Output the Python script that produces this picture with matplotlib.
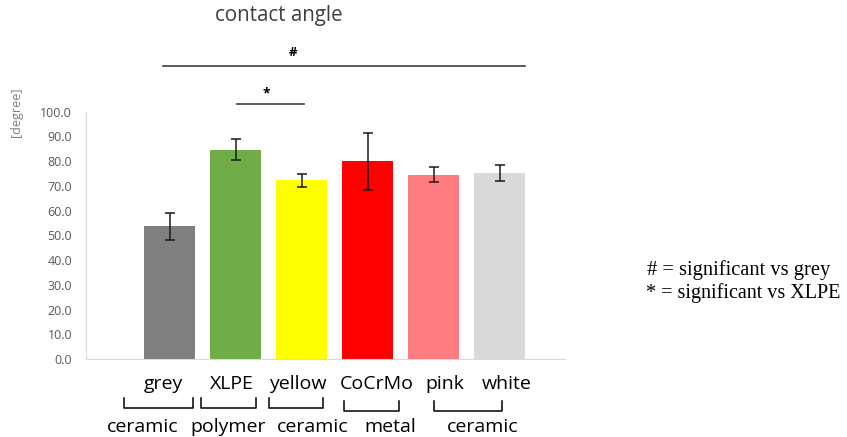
import matplotlib.pyplot as plt
import numpy as np

# contact angle per material, mean and SD
materials = ['grey', 'XLPE', 'yellow', 'CoCrMo', 'pink', 'white']
angle_mean = [53.7, 84.6, 72.2, 80.0, 74.5, 75.3]
angle_sd = [5.4, 4.3, 2.5, 11.5, 3.0, 3.3]
bar_colors = ['#7f7f7f', '#70ad47', '#ffff00', '#ff0000', '#ff7c80', '#d9d9d9']

# material classes shown under the category labels
groups = ['ceramic', 'polymer', 'ceramic', 'metal', 'ceramic']

SANS = 'Open Sans'
W, H = 847, 437
fig = plt.figure(figsize=(W / 100, H / 100), dpi=100)
ax = fig.add_axes([86 / W, (H - 359) / H, (565 - 86) / W, (359 - 111.7) / H])

x = np.arange(len(materials))
ax.bar(x, angle_mean, width=0.77, color=bar_colors)
ax.errorbar(x, angle_mean, yerr=angle_sd, fmt='none', ecolor='#1a1a1a',
            elinewidth=1.1, capsize=3.5, capthick=1.1)

ax.set_xlim(-1.268, 5.99)
ax.set_ylim(0, 100)
ax.set_yticks(np.arange(0, 101, 10))
ax.set_yticklabels([f'{v:.1f}' for v in range(0, 101, 10)])
ax.tick_params(axis='y', length=0, pad=10, labelsize=9, labelcolor='#595959')
ax.tick_params(axis='x', bottom=False, labelbottom=False)
for lab in ax.get_yticklabels():
    lab.set_fontfamily(SANS)
for side in ['top', 'right']:
    ax.spines[side].set_visible(False)
ax.spines['left'].set_color('#d9d9d9')
ax.spines['bottom'].set_color('#d9d9d9')

fig.text(17 / W, 1 - 112 / H, '[degree]', rotation=90, ha='center', va='center',
         fontsize=9, color='#7f7f7f', family=SANS)
fig.text(279 / W, 1 - 15 / H, 'contact angle', ha='center', va='center',
         fontsize=14.8, color='#404040', family=SANS)

# significance lines
fig.add_artist(plt.Line2D([163 / W, 525 / W], [1 - 66 / H] * 2, color='#404040', lw=1.2))
fig.text(293 / W, 1 - 53 / H, '#', ha='center', va='center', fontsize=9.5,
         family=SANS, weight='bold')
fig.add_artist(plt.Line2D([237 / W, 304 / W], [1 - 104 / H] * 2, color='#404040', lw=1.2))
fig.text(266 / W, 1 - 93 / H, '*', ha='center', va='center', fontsize=10,
         family=SANS, weight='bold')

# category names under the axis
name_x = [163, 232, 298, 377, 445, 507]
for nx, name in zip(name_x, materials):
    fig.text(nx / W, 1 - 384 / H, name, ha='center', va='center', fontsize=14, family=SANS)

# brackets and group labels
brackets = [(124, 193, 408), (201, 256, 408), (269, 323, 408), (344, 399, 411), (434, 502, 411)]
group_x = [143, 228, 313, 390, 483]
for (x0, x1, y), gx, g in zip(brackets, group_x, groups):
    fig.add_artist(plt.Line2D([x0 / W, x0 / W, x1 / W, x1 / W],
                              [1 - (y - 10) / H, 1 - y / H, 1 - y / H, 1 - (y - 10) / H],
                              color='black', lw=1.1))
    fig.text(gx / W, 1 - 427 / H, g, ha='center', va='center', fontsize=14, family=SANS)

fig.text(739 / W, 1 - 270 / H, '# = significant vs grey', ha='center', va='center',
         fontsize=14.8, family='Liberation Serif')
fig.text(743 / W, 1 - 293 / H, '* = significant vs XLPE', ha='center', va='center',
         fontsize=14.5, family='Liberation Serif')

fig.savefig('out.png', dpi=100)
